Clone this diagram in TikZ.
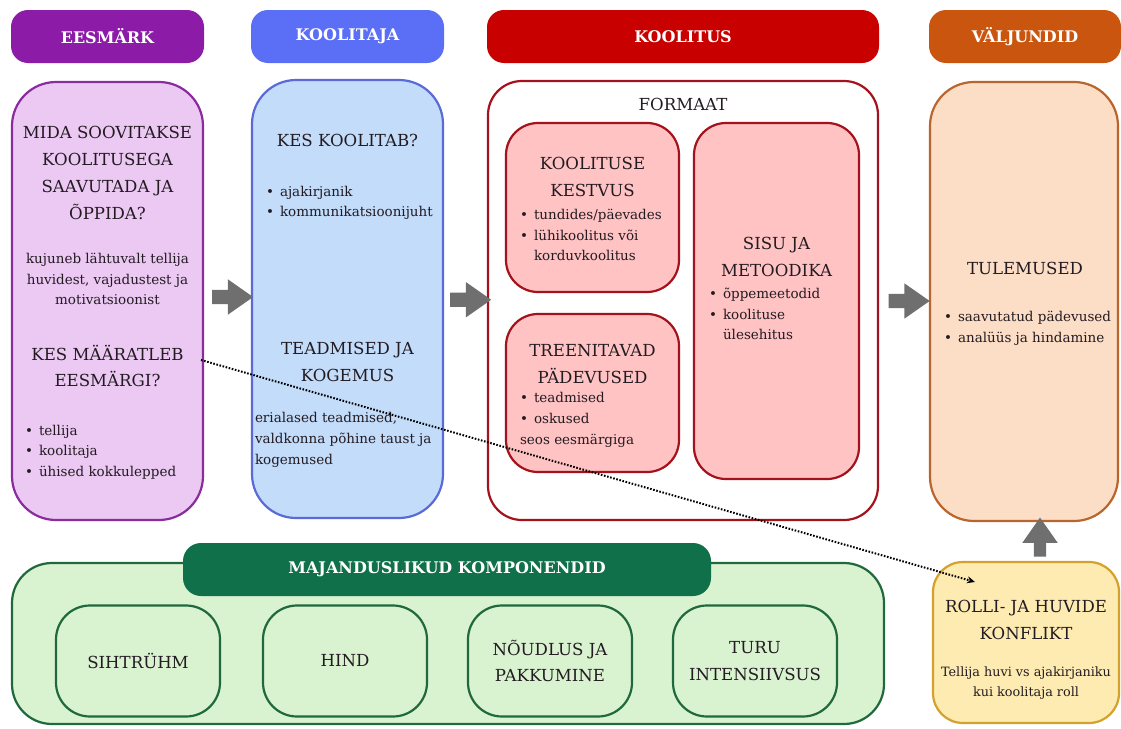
\documentclass[tikz,border=0pt]{standalone}
\usepackage{fontspec}
\setmainfont{DejaVu Serif}
\usetikzlibrary{arrows.meta,shapes.arrows,calc}
\definecolor{goalPurple}{HTML}{8C1CA8}
\definecolor{goalFill}{HTML}{EBC9F3}
\definecolor{goalLine}{HTML}{8A2C9E}
\definecolor{trainerBlue}{HTML}{5A6EF6}
\definecolor{trainerFill}{HTML}{C2DCFA}
\definecolor{trainerLine}{HTML}{5A6BD8}
\definecolor{courseRed}{HTML}{C90000}
\definecolor{courseLine}{HTML}{A3121D}
\definecolor{courseFill}{HTML}{FFC3C3}
\definecolor{outOrange}{HTML}{C9550F}
\definecolor{outFill}{HTML}{FCDDC6}
\definecolor{outLine}{HTML}{B9652C}
\definecolor{ecoGreen}{HTML}{10704A}
\definecolor{ecoFill}{HTML}{D9F2D0}
\definecolor{ecoLine}{HTML}{20693C}
\definecolor{roleFill}{HTML}{FDEBB2}
\definecolor{roleLine}{HTML}{D4A12C}
\definecolor{arrowGray}{HTML}{6F6F6F}
\definecolor{inkDark}{HTML}{231B22}
\newcommand{\PlanHeadFont}{\fontsize{16.6}{26.7}\selectfont}
\newcommand{\PlanBodyFont}{\fontsize{13.5}{20.7}\selectfont}
\newcommand{\Bul}[1]{\makebox[14pt][l]{\textbullet}#1}
\newcommand{\BulCont}[1]{\hspace*{14pt}#1}
\tikzset{
  plan diagram/.style={x=1pt, y=-1pt,
    every node/.style={text=inkDark, inner sep=0pt, outer sep=0pt}},
  plan head/.style={rounded corners=17pt, minimum height=53pt, text=white,
    font=\fontsize{16}{19}\selectfont\bfseries},
  plan box/.style={draw, line width=2.2pt, rounded corners=#1},
  plan box/.default=44pt,
  plan title/.style={align=center, font=\PlanHeadFont},
  plan text/.style={align=center, font=\PlanBodyFont},
  plan list/.style={align=left, font=\PlanBodyFont, anchor=west},
  plan arrow/.style={single arrow, fill=arrowGray, inner sep=7pt,
    minimum height=41pt, single arrow head extend=10.5pt,
    single arrow tip angle=70, single arrow head indent=0pt},
  plan link/.style={line width=2pt, dash pattern=on 1.6pt off 1.6pt,
    -{Stealth[length=8pt,width=7pt]}}
}

\begin{document}
\begin{tikzpicture}[plan diagram]
  \useasboundingbox (0,0) rectangle (1121,728);
  \node[plan head, fill=goalPurple, minimum width=193pt] (eesHead) at (107.5,36.5) {EESMÄRK};
  \node[plan head, fill=trainerBlue, minimum width=193pt] (kooHead) at (347.5,36.5) {KOOLITAJA};
  \node[plan head, fill=courseRed, minimum width=392pt] (kolHead) at (683,36.5) {KOOLITUS};
  \node[plan head, fill=outOrange, minimum width=192pt] (valHead) at (1025,36.5) {VÄLJUNDID};

  \node[plan box, draw=goalLine, fill=goalFill, minimum width=191pt, minimum height=438pt] (eesBox) at (107.5,301) {};
  \node[plan title] (eesAsk) at (107.5,173) {MIDA SOOVITAKSE\\KOOLITUSEGA\\SAAVUTADA JA\\ÕPPIDA?};
  \node[plan text] (eesNote) at (107.5,279) {kujuneb lähtuvalt tellija\\huvidest, vajadustest ja\\motivatsioonist};
  \node[plan title] (eesWho) at (107.5,366) {KES MÄÄRATLEB\\EESMÄRGI?};
  \node[plan list] (eesList) at (25,452) {\Bul{tellija}\\\Bul{koolitaja}\\\Bul{ühised kokkulepped}};

  \node[plan box, draw=trainerLine, fill=trainerFill, minimum width=191pt, minimum height=438pt] (kooBox) at (347.5,299) {};
  \node[plan title] (kooAsk) at (347.5,140) {KES KOOLITAB?};
  \node[plan list] (kooList) at (266,203) {\Bul{ajakirjanik}\\\Bul{kommunikatsioonijuht}};
  \node[plan title] (kooSkill) at (347.5,362) {TEADMISED JA\\KOGEMUS};
  \node[plan list] (kooNote) at (255,440) {erialased teadmised,\\valdkonna põhine taust ja\\kogemused};

  \node[plan box=34pt, draw=courseLine, fill=white, minimum width=390pt, minimum height=439pt] (kolBox) at (683,300.5) {};
  \node[plan title] (formaat) at (683,104) {FORMAAT};
  \node[plan box=32pt, draw=courseLine, fill=courseFill, minimum width=173pt, minimum height=169pt] (kestBox) at (592.5,207.5) {};
  \node[plan title] (kestTitle) at (592.5,177) {KOOLITUSE\\KESTVUS};
  \node[plan list] (kestList) at (520,235) {\Bul{tundides/päevades}\\\Bul{lühikoolitus või}\\\BulCont{korduvkoolitus}};
  \node[plan box=32pt, draw=courseLine, fill=courseFill, minimum width=173pt, minimum height=158pt] (treenBox) at (592.5,393) {};
  \node[plan title] (treenTitle) at (592.5,364) {TREENITAVAD\\PÄDEVUSED};
  \node[plan list] (treenList) at (520,420) {\Bul{teadmised}\\\Bul{oskused}\\seos eesmärgiga};
  \node[plan box=32pt, draw=courseLine, fill=courseFill, minimum width=165pt, minimum height=356pt] (sisuBox) at (776.5,301) {};
  \node[plan title] (sisuTitle) at (776.5,257) {SISU JA\\METOODIKA};
  \node[plan list] (sisuList) at (709,314) {\Bul{õppemeetodid}\\\Bul{koolituse}\\\BulCont{ülesehitus}};

  \node[plan box, draw=outLine, fill=outFill, minimum width=188pt, minimum height=439pt] (valBox) at (1024,301.5) {};
  \node[plan title] (tulTitle) at (1025,268) {TULEMUSED};
  \node[plan list] (tulList) at (944,328) {\Bul{saavutatud pädevused}\\\Bul{analüüs ja hindamine}};

  \node[plan box=40pt, draw=ecoLine, fill=ecoFill, minimum width=872pt, minimum height=161pt] (majBox) at (448,643.5) {};
  \node[plan head, fill=ecoGreen, minimum width=528pt, rounded corners=18pt] (majHead) at (447,569.5) {MAJANDUSLIKUD KOMPONENDID};
  \node[plan box=34pt, draw=ecoLine, fill=ecoFill, minimum width=164pt, minimum height=111pt, plan title] (sihtNode) at (138,661) {SIHTRÜHM};
  \node[plan box=34pt, draw=ecoLine, fill=ecoFill, minimum width=164pt, minimum height=111pt, plan title] (hindNode) at (345,661) {HIND};
  \node[plan box=34pt, draw=ecoLine, fill=ecoFill, minimum width=164pt, minimum height=111pt, plan title] (noudNode) at (550,661) {NÕUDLUS JA\\PAKKUMINE};
  \node[plan box=34pt, draw=ecoLine, fill=ecoFill, minimum width=164pt, minimum height=111pt, plan title] (turuNode) at (755,661) {TURU\\INTENSIIVSUS};

  \node[plan box=30pt, draw=roleLine, fill=roleFill, minimum width=186pt, minimum height=161pt] (rolli) at (1026,642.5) {};
  \node[plan title] (rolliTitle) at (1026,620) {ROLLI- JA HUVIDE\\KONFLIKT};
  \node[plan text, font=\fontsize{12.8}{19.5}\selectfont] (rolliNote) at (1026,683) {Tellija huvi vs ajakirjaniku\\kui koolitaja roll};

  \node[plan arrow] (arrA) at ($(eesBox.east)!0.5!(kooBox.west)+(0,-3)$) {};
  \node[plan arrow] (arrB) at ($(kooBox.east)!0.5!(kolBox.west)$) {};
  \node[plan arrow] (arrC) at ($(kolBox.east)!0.5!(valBox.west)$) {};
  \node[plan arrow, shape border rotate=90, inner sep=6pt, minimum height=39pt, single arrow head extend=11.5pt] (arrD) at ($(valBox.south)!0.5!(rolli.north)+(15,0)$) {};

  \coordinate (linkStart) at ($(eesBox.east)+(-2,59)$);
  \coordinate (linkEnd) at ($(rolli.north west)+(42,20)$);
  \draw[plan link] (linkStart) -- (linkEnd);
\end{tikzpicture}
\end{document}
